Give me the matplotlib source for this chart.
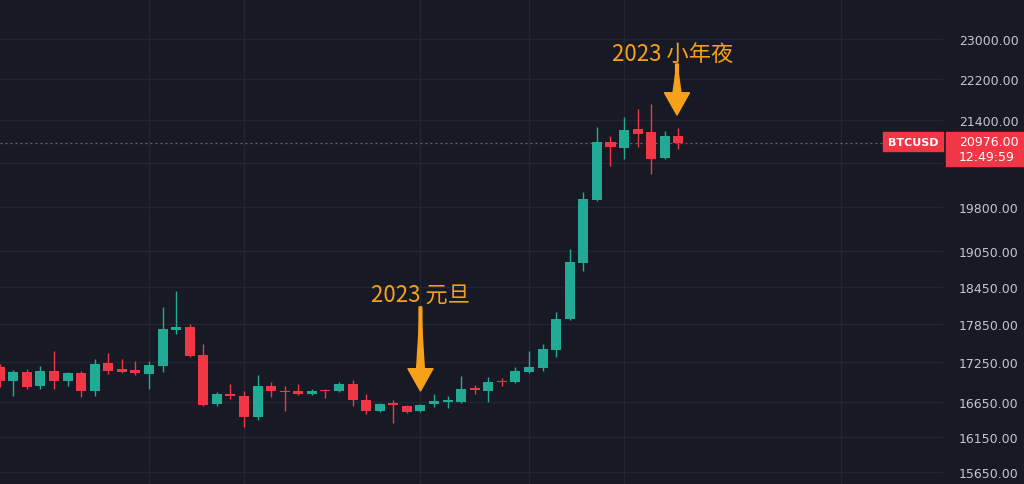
import numpy as np
import pandas as pd
import matplotlib
matplotlib.use('Agg')
import matplotlib.pyplot as plt
from matplotlib.patches import Rectangle
from matplotlib.ticker import FuncFormatter, NullLocator

# BTCUSD daily candles, 2022-12-01 .. 2023-01-20
dates = pd.date_range('2022-12-01', '2023-01-20', freq='D')
opens = [17182, 16969, 17106, 16894, 17121, 16969, 17091, 16819, 17242, 17151,
         17136, 17075, 17197, 17756, 17805, 17366, 16625, 16774, 16744, 16434,
         16894, 16819, 16819, 16774, 16834, 16819, 16924, 16685, 16522, 16640,
         16596, 16522, 16625, 16655, 16655, 16864, 16819, 16969, 16954, 17106,
         17167, 17443, 17931, 18846, 19931, 20986, 20875, 21230, 21174, 20690,
         21099]
highs = [17228, 17136, 17151, 17197, 17428, 17106, 17121, 17304, 17397, 17304,
         17273, 17273, 18123, 18382, 17852, 17537, 16804, 16924, 16819, 17060,
         16954, 16894, 16924, 16849, 16849, 16954, 16984, 16774, 16640, 16685,
         16611, 16625, 16774, 16744, 17045, 16909, 17030, 17015, 17182, 17428,
         17537, 18043, 19082, 20073, 21268, 21099, 21458, 21611, 21707, 21193,
         21249]
lows = [16879, 16744, 16849, 16849, 16849, 16894, 16729, 16744, 17075, 17091,
        17060, 16849, 17106, 17693, 17336, 16596, 16596, 16700, 16289, 16390,
        16729, 16522, 16759, 16759, 16714, 16804, 16596, 16478, 16507, 16347,
        16493, 16507, 16581, 16566, 16640, 16774, 16655, 16894, 16939, 17091,
        17121, 17336, 17915, 18713, 19913, 20542, 20671, 20893, 20397, 20671,
        20856]
closes = [16969, 17106, 16879, 17121, 16969, 17091, 16819, 17228, 17121, 17106,
          17091, 17213, 17772, 17805, 17351, 16611, 16774, 16744, 16434, 16894,
          16819, 16804, 16774, 16819, 16812, 16924, 16685, 16522, 16625, 16611,
          16507, 16611, 16670, 16685, 16849, 16834, 16954, 16946, 17121, 17182,
          17459, 17931, 18862, 19949, 20986, 20893, 21211, 21136, 20671, 21099,
          20976]

price_ticks = [15650, 16150, 16650, 17250, 17850, 18450, 19050, 19800,
               20600, 21400, 22200, 23000]
hidden_tick = 20600   # sits under the live price tag
grid_dates = ['2022-12-12', '2022-12-19', '2023-01-01', '2023-01-09',
              '2023-01-16', '2023-02-01']

BG = '#171a24'
GRID = '#232631'
GREEN = '#22ab94'
RED = '#f23645'
ORANGE = '#f7a11a'
TEXT = '#c3c6ce'
CJK = ['Noto Sans CJK SC', 'DejaVu Sans']

opens = np.array(opens, dtype=float)
highs = np.array(highs, dtype=float)
lows = np.array(lows, dtype=float)
closes = np.array(closes, dtype=float)
x = np.arange(len(dates))
colors = np.where(closes >= opens, GREEN, RED)

fig = plt.figure(figsize=(10.24, 4.85), dpi=100, facecolor=BG)
ax = fig.add_axes([0, 0, 943 / 1024, 1])
ax.set_facecolor(BG)

ax.vlines(x, lows, highs, colors=colors, lw=1, zorder=3)
ax.bar(x, np.abs(closes - opens), bottom=np.minimum(opens, closes),
       width=0.74, color=colors, zorder=4)

ax.set_yscale('log')
ax.set_ylim(15483, 23831)
ax.set_xlim(0.02, 69.5)

ax.set_yticks(price_ticks)
ax.yaxis.set_minor_locator(NullLocator())
ax.yaxis.set_major_formatter(
    FuncFormatter(lambda v, p: '' if round(v) == hidden_tick else f'{v:.2f}'))
ax.yaxis.tick_right()
ax.tick_params(axis='y', length=0, pad=11.5, labelsize=9, labelcolor=TEXT)

grid_x = [(pd.Timestamp(d) - dates[0]).days for d in grid_dates]
ax.set_xticks(grid_x)
ax.tick_params(axis='x', length=0, labelbottom=False)
ax.grid(True, color=GRID, lw=1, zorder=0)
ax.set_axisbelow(True)
for s in ax.spines.values():
    s.set_visible(False)

last = closes[-1]
ax.plot([0.02, 883 / 13.57], [last, last], color='#6a6d78', lw=0.9,
        ls=(0, (1.5, 2.5)), zorder=2)


def tapered_arrow(xa, tip, base, top):
    # thin arrow with a triangular head, plus a wedge so the shaft widens downward
    ax.annotate('', xy=(xa, tip), xytext=(xa, top),
                arrowprops=dict(arrowstyle='simple,head_length=0.8,head_width=0.9,tail_width=0.1',
                                color=ORANGE, mutation_scale=20,
                                shrinkA=0, shrinkB=0), zorder=6)
    ax.annotate('', xy=(xa, top), xytext=(xa, base),
                arrowprops=dict(arrowstyle='wedge,tail_width=0.3,shrink_factor=0.5',
                                color=ORANGE, mutation_scale=20,
                                shrinkA=0, shrinkB=0), zorder=6)


jan1 = (pd.Timestamp('2023-01-01') - dates[0]).days
xnye = (pd.Timestamp('2023-01-20') - dates[0]).days
tapered_arrow(jan1, 16819, 17075, 18123)
ax.text(jan1, 18333, '2023 元旦', color=ORANGE, fontsize=16,
        ha='center', va='center', family=CJK, zorder=6)
tapered_arrow(xnye - 0.1, 21496, 21900, 22492)
ax.text(xnye - 0.4, 22714, '2023 小年夜', color=ORANGE, fontsize=16,
        ha='center', va='center', family=CJK, zorder=6)

# price tags
W, H = 1024, 485
y_px = ax.transData.transform((0, last))[1]
fig.add_artist(Rectangle((946 / W, (y_px - 23.5) / H), 78 / W, 34 / H,
                         transform=fig.transFigure, color=RED, zorder=5))
fig.add_artist(Rectangle((883 / W, (y_px - 8.5) / H), 60 / W, 19 / H,
                         transform=fig.transFigure, color=RED, zorder=5))
fig.text(959 / W, (y_px + 1) / H, f'{last:.2f}', color='white', fontsize=9,
         ha='left', va='center', zorder=6)
fig.text(959 / W, (y_px - 14) / H, '12:49:59', color='white', fontsize=9,
         ha='left', va='center', zorder=6)
fig.text(913 / W, (y_px + 1) / H, 'BTCUSD', color='white', fontsize=8,
         weight='bold', ha='center', va='center', zorder=6)

fig.savefig('out.png', dpi=100, facecolor=BG)
